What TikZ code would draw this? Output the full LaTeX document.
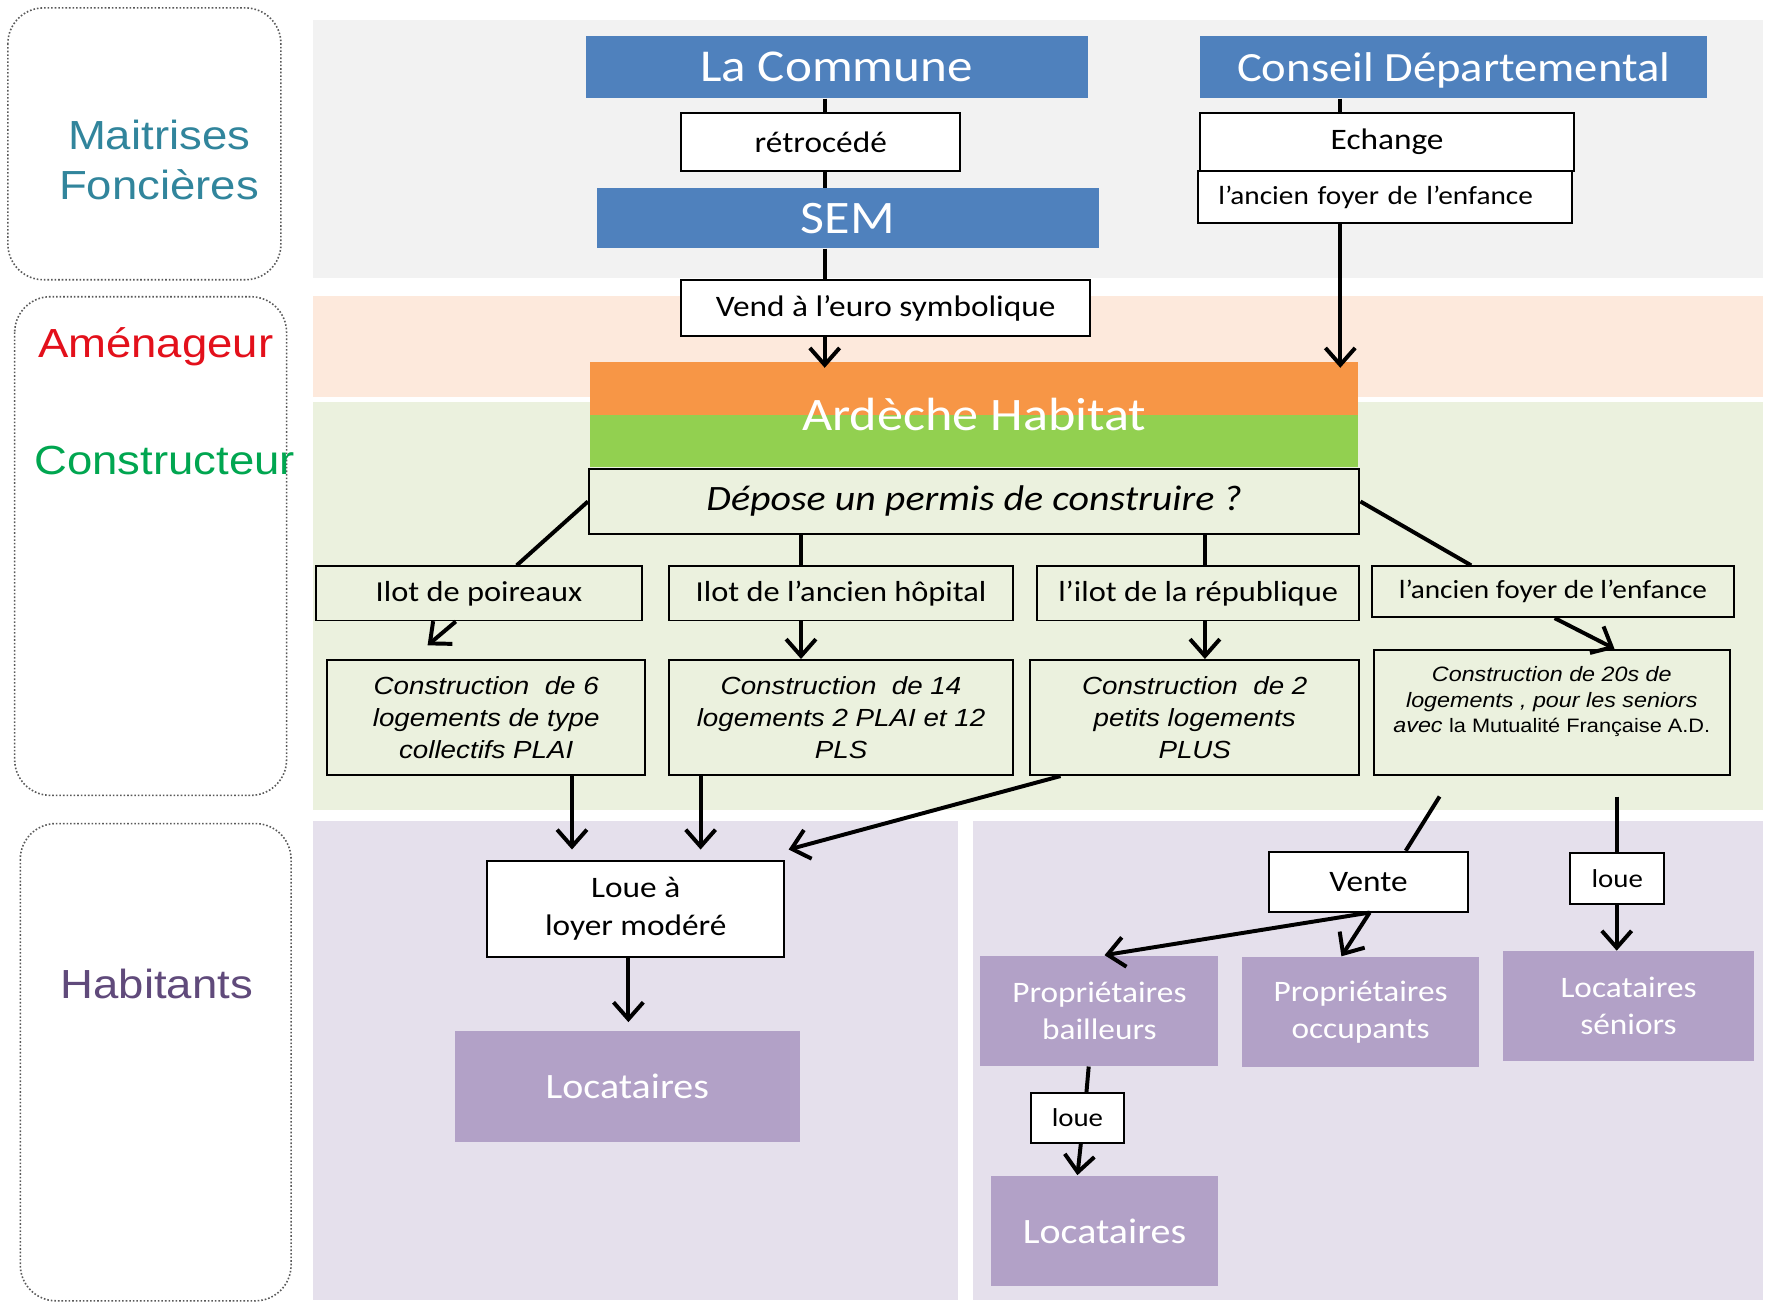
\documentclass[tikz,border=0pt]{standalone}
\usepackage{fontspec}
\setmainfont[FakeStretch=1.12]{Carlito}
\newfontfamily\ari[FakeStretch=1.12]{Liberation Sans}
\usetikzlibrary{arrows.meta}
\definecolor{cblue}{HTML}{4F81BD}
\definecolor{corange}{HTML}{F79646}
\definecolor{cgreen}{HTML}{92D050}
\definecolor{bgray}{HTML}{F2F2F2}
\definecolor{bpeach}{HTML}{FDE9DC}
\definecolor{bgreen}{HTML}{EBF1DE}
\definecolor{bpurple}{HTML}{E5E0EC}
\definecolor{cpurple}{HTML}{B2A1C7}
\definecolor{tteal}{HTML}{31859C}
\definecolor{tred}{HTML}{E3101B}
\definecolor{tgreen}{HTML}{00A650}
\definecolor{tpurple}{HTML}{604A7B}
\begin{document}
\begin{tikzpicture}[x=0.02cm,y=-0.02cm,
  every node/.style={inner sep=0pt, align=center},
  rect/.style args={#1/#2/#3/#4}{minimum width={(#3-#1)*0.02cm}, minimum height={(#4-#2)*0.02cm}, at={({(#1+#3)/2},{(#2+#4)/2})}},
  bluebox/.style={fill=cblue, text=white, font=\fontsize{22}{26}\selectfont},
  wbox/.style={draw=black, line width=1pt, fill=white, font=\fontsize{15}{19}\selectfont},
  gbox/.style={draw=black, line width=1pt, fill=bgreen, font=\fontsize{14.6}{17}\selectfont},
  cbox/.style={draw=black, line width=1pt, fill=bgreen, font=\ari\itshape\fontsize{12.5}{16}\selectfont},
  pbox/.style={fill=cpurple, text=white, font=\fontsize{15}{18.5}\selectfont},
  lbox/.style={draw=gray!70!black, densely dotted, line width=0.8pt, rounded corners=18pt},
  lab/.style={font=\ari\fontsize{20.5}{25}\selectfont},
  conn/.style={line width=2pt},
  arr/.style={line width=2pt, -{Straight Barb[length=8.5pt,width=15pt]}},
]
\useasboundingbox (0,0) rectangle (1568,1155);
\fill[white] (0,0) rectangle (1568,1155);
% bands
\fill[bgray] (277,18) rectangle (1563,246);
\fill[bpeach] (277,262) rectangle (1563,352);
\fill[bgreen] (277,356) rectangle (1563,718);
\fill[bpurple] (277,728) rectangle (849,1152);
\fill[bpurple] (862,728) rectangle (1563,1152);
% left boxes
\draw[lbox] (7,7) rectangle (249,248);
\draw[lbox] (13,263) rectangle (254,705);
\draw[lbox] (18,730) rectangle (258,1153);
\node[lab, text=tteal] (l1) at (141,142) {Maitrises\\Foncières};
\node[lab, text=tred] (l2) at (138,307) {Aménageur};
\node[lab, text=tgreen] (l3) at (146,408) {Constructeur};
\node[lab, text=tpurple] (l4) at (139,872) {Habitants};
% top
\node[bluebox, rect=519/32/964/87, font=\fontsize{23}{27}\selectfont] (commune) {La Commune};
\node[bluebox, rect=529/167/974/220, font=\fontsize{23.5}{27}\selectfont] (sem) {SEM};
\node[bluebox, rect=1064/32/1513/87, font=\fontsize{21}{25}\selectfont, text depth=0pt] (conseil) {Conseil Départemental};
\node[wbox, rect=604/100/851/152] (retro) {rétrocédé};
\node[wbox, rect=604/248/966/298] (vend) {Vend à l’euro symbolique};
\node[wbox, rect=1064/100/1395/152] (echange) {Echange};
\node[wbox, rect=1062/152/1393/198, font=\fontsize{13.2}{15}\selectfont, align=left, text width=5.9cm] (foyer1) {l’ancien foyer de l’enfance};
% Ardeche
\fill[corange] (523,321) rectangle (1204,368);
\fill[cgreen] (523,368) rectangle (1204,414);
\node[rect=523/321/1204/414, text=white, font=\fontsize{23.5}{27}\selectfont] (ardeche) {Ardèche Habitat};
\node[gbox, rect=522/416/1205/473, font=\itshape\fontsize{18}{21}\selectfont] (depose) {Dépose un permis de construire ?};
% ilots
\node[gbox, rect=280/502/569/550] (poireaux) {Ilot de poireaux};
\node[gbox, rect=593/502/898/550] (hopital) {Ilot de l’ancien hôpital};
\node[gbox, rect=919/502/1205/550] (repub) {l’ilot de la république};
\node[gbox, rect=1216/502/1537/547, font=\fontsize{13.2}{16}\selectfont] (foyer2) {l’ancien foyer de l’enfance};
% constructions
\node[cbox, rect=290/585/572/687] (c1) {Construction\ \ de 6\\logements\ de type\\collectifs PLAI};
\node[cbox, rect=593/585/898/687] (c2) {Construction\ \ de 14\\logements\ 2 PLAI et 12\\PLS};
\node[cbox, rect=913/585/1205/687] (c3) {Construction\ \ de 2\\petits logements\\PLUS};
\node[cbox, rect=1218/576/1533/687, font=\ari\itshape\fontsize{10.5}{13}\selectfont] (c4) {Construction de 20s de\\logements , pour les seniors\\avec {\upshape\fontsize{9.8}{13}\selectfont la Mutualité Française A.D.}\\\mbox{}};
% habitants
\node[wbox, rect=432/763/695/848] (loue1) {Loue à\\loyer modéré};
\node[pbox, rect=403/914/709/1012, font=\fontsize{18}{22}\selectfont] (loc1) {Locataires};
\node[wbox, rect=1125/755/1301/808] (vente) {Vente};
\node[wbox, rect=1392/756/1475/801, font=\fontsize{13}{16}\selectfont] (loue2) {loue};
\node[pbox, rect=869/847/1080/945] (pbail) {Propriétaires\\bailleurs};
\node[pbox, rect=1101/848/1311/946] (pocc) {Propriétaires\\occupants};
\node[pbox, rect=1332/843/1555/940] (locsen) {Locataires\\séniors};
\node[wbox, rect=914/969/996/1013, font=\fontsize{13}{16}\selectfont] (loue3) {loue};
\node[pbox, rect=878/1042/1080/1140, font=\fontsize{18}{22}\selectfont] (loc2) {Locataires};
% coordinates
\coordinate (xa) at (731,0);
\coordinate (xb) at (1188,0);
\coordinate (xc) at (710,0);
\coordinate (xd) at (1068,0);
\coordinate (tipA) at (731,326);
\coordinate (tipB) at (1188,326);
\coordinate (pA) at (458,0);
\coordinate (pB1) at (404,0);
\coordinate (pB2) at (379,572);
\coordinate (pC) at (1304,0);
\coordinate (pD) at (1378,0);
\coordinate (pE) at (1431,575);
\coordinate (xe) at (507,0);
\coordinate (tipE) at (507,753);
\coordinate (xf) at (621,0);
\coordinate (tipF) at (621,753);
\coordinate (pG) at (940,0);
\coordinate (tipG) at (699,753);
\coordinate (xh) at (557,0);
\coordinate (tipH) at (557,906);
\coordinate (pH) at (1276,706);
\coordinate (pH2) at (1246,0);
\coordinate (pI) at (1214,0);
\coordinate (pJ) at (979,0);
\coordinate (pK) at (1189,0);
\coordinate (pL) at (1433,706);
\coordinate (pM) at (965,0);
\coordinate (pN) at (963,0);
\coordinate (pO) at (958,0);
\coordinate (pP) at (955,0);
% connectors top
\draw[conn] (commune.south -| xa) -- (retro.north -| xa);
\draw[conn] (retro.south -| xa) -- (sem.north -| xa);
\draw[conn] (sem.south -| xa) -- (vend.north -| xa);
\draw[arr] (vend.south -| xa) -- (tipA);
\draw[conn] (conseil.south -| xb) -- (echange.north -| xb);
\draw[arr] (foyer1.south -| xb) -- (tipB);
% constructeur
\draw[conn] (depose.west) -- (poireaux.north -| pA);
\draw[arr] (poireaux.south -| pB1) -- (pB2);
\draw[conn] (depose.south -| xc) -- (hopital.north -| xc);
\draw[arr] (hopital.south -| xc) -- (c2.north -| xc);
\draw[conn] (depose.south -| xd) -- (repub.north -| xd);
\draw[arr] (repub.south -| xd) -- (c3.north -| xd);
\draw[conn] (depose.east) -- (foyer2.north -| pC);
\draw[arr] (foyer2.south -| pD) -- (pE);
% habitants
\draw[arr] (c1.south -| xe) -- (tipE);
\draw[arr] (c2.south -| xf) -- (tipF);
\draw[arr] (c3.south -| pG) -- (tipG);
\draw[arr] (loue1.south -| xh) -- (tipH);
\draw[conn] (pH) -- (vente.north -| pH2);
\draw[arr] (vente.south -| pI) -- (pbail.north -| pJ);
\draw[arr] (vente.south -| pI) -- (pocc.north -| pK);
\draw[conn] (pL) -- (loue2.north -| pL);
\draw[arr] (loue2.south -| pL) -- (locsen.north -| pL);
\draw[conn] (pbail.south -| pM) -- (loue3.north -| pN);
\draw[arr] (loue3.south -| pO) -- (loc2.north -| pP);
\end{tikzpicture}
\end{document}
